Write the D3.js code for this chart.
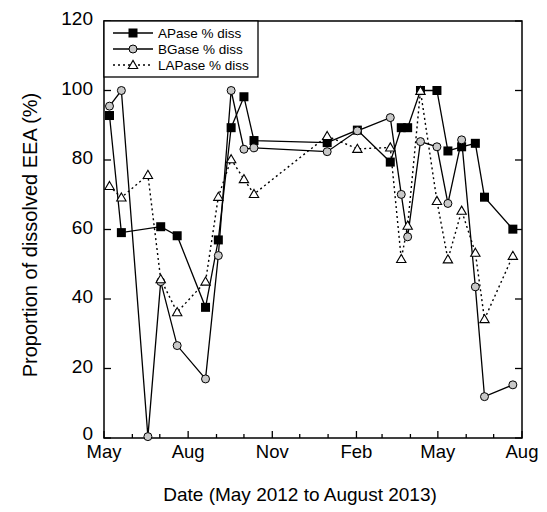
<!DOCTYPE html>
<html>
<head>
<meta charset="utf-8">
<script src="https://cdn.jsdelivr.net/npm/d3@7"></script>
<style>
  body { margin: 0; background: #fff; }
  svg { display: block; font-family: "Liberation Sans", Arial, Helvetica, sans-serif; }
</style>
</head>
<body>
<svg id="chart" width="547" height="512"></svg>
<script>
// Sampling dates and % dissolved for each enzyme
const dates = ["2012-05-07","2012-05-20","2012-06-18","2012-07-02","2012-07-20","2012-08-20",
  "2012-09-03","2012-09-17","2012-10-01","2012-10-12","2012-12-31","2013-02-02","2013-03-10",
  "2013-03-22","2013-03-29","2013-04-12","2013-04-30","2013-05-12","2013-05-27","2013-06-11",
  "2013-06-21","2013-07-22"];
const apase  = [92.8, 59.1, null, 60.8, 58.2, 37.6, 57.0, 89.3, 98.2, 85.6, 85.0, 88.6, 79.4,
  89.3, 89.3, 100, 100, 82.6, 83.8, 84.8, 69.3, 60.1];
const bgase  = [95.5, 100, 0.4, 45.0, 26.6, 17.0, 52.5, 100, 83.1, 83.5, 82.4, 88.4, 92.2,
  70.1, 57.9, 85.3, 83.8, 67.5, 85.8, 43.5, 11.9, 15.3];
const lapase = [72.5, 69.2, 75.7, 45.7, 36.2, 45.0, 69.4, 80.2, 74.5, 70.2, 86.9, 83.2, 83.6,
  51.5, 61.1, 99.9, 68.2, 51.4, 65.4, 53.3, 34.2, 52.4];
const yTicks = [0, 20, 40, 60, 80, 100, 120];
const seriesNames = ["APase % diss", "BGase % diss", "LAPase % diss"];

const parse = d3.timeParse("%Y-%m-%d");
const svg = d3.select("#chart");
const m = { left: 104, right: 522, top: 21, bottom: 438 };

const x = d3.scaleTime()
  .domain([new Date(2012, 4, 1), new Date(2013, 7, 1)])
  .range([m.left, m.right]);
const y = d3.scaleLinear().domain([0, 120]).range([m.bottom, m.top]);

const toPts = vals => dates.map((d, i) => ({ date: parse(d), v: vals[i] })).filter(p => p.v != null);
const series = [
  { name: seriesNames[0], pts: toPts(apase), shape: "square", dash: null },
  { name: seriesNames[1], pts: toPts(bgase), shape: "circle", dash: null },
  { name: seriesNames[2], pts: toPts(lapase), shape: "triangle", dash: "2,3" }
];

// frame
svg.append("rect")
  .attr("x", m.left).attr("y", m.top)
  .attr("width", m.right - m.left).attr("height", m.bottom - m.top)
  .attr("fill", "none").attr("stroke", "#000").attr("stroke-width", 1.5);

// x axis: monthly ticks inward, labels every 3 months
const months = d3.timeMonth.range(x.domain()[0], d3.timeMonth.offset(x.domain()[1], 1));
const fmt = d3.timeFormat("%b");
const xg = svg.append("g");
months.forEach((d, i) => {
  const major = i % 3 === 0;
  xg.append("line")
    .attr("x1", x(d)).attr("x2", x(d))
    .attr("y1", m.bottom).attr("y2", m.bottom - (major ? 7 : 4))
    .attr("stroke", "#000").attr("stroke-width", 1.3);
  if (major) {
    xg.append("text")
      .attr("x", x(d)).attr("y", m.bottom + 20)
      .attr("text-anchor", "middle").attr("font-size", 18.5)
      .text(fmt(d));
  }
});

// y axis: ticks inward on both sides
const yg = svg.append("g");
yTicks.forEach(t => {
  [[m.left, m.left + 7], [m.right, m.right - 7]].forEach(([a, b]) => {
    yg.append("line")
      .attr("x1", a).attr("x2", b)
      .attr("y1", y(t)).attr("y2", y(t))
      .attr("stroke", "#000").attr("stroke-width", 1.3);
  });
  yg.append("text")
    .attr("x", m.left - 11).attr("y", y(t) + (t === 0 ? 2 : 4))
    .attr("text-anchor", "end").attr("font-size", 19)
    .text(t);
});

// axis titles
svg.append("text")
  .attr("x", 300).attr("y", 501)
  .attr("text-anchor", "middle").attr("font-size", 19)
  .text("Date (May 2012 to August 2013)");
svg.append("text")
  .attr("transform", "translate(37,235) rotate(-90)")
  .attr("text-anchor", "middle").attr("font-size", 20)
  .text("Proportion of dissolved EEA (%)");

function drawMarker(g, shape, cx, cy) {
  if (shape === "square") {
    g.append("rect").attr("x", cx - 4.5).attr("y", cy - 4.5)
      .attr("width", 9).attr("height", 9).attr("fill", "#000");
  } else if (shape === "circle") {
    g.append("circle").attr("cx", cx).attr("cy", cy).attr("r", 4)
      .attr("fill", "#c8c8c8").attr("stroke", "#000").attr("stroke-width", 1);
  } else {
    g.append("path")
      .attr("d", d3.symbol(d3.symbolTriangle, 38)())
      .attr("transform", `translate(${cx},${cy + 0.8})`)
      .attr("fill", "#fff").attr("stroke", "#000").attr("stroke-width", 1.1);
  }
}

const line = d3.line().x(d => x(d.date)).y(d => y(d.v));

// lines first, markers above
series.forEach(s => {
  svg.append("path")
    .datum(s.pts)
    .attr("d", line)
    .attr("fill", "none").attr("stroke", "#000")
    .attr("stroke-width", s.dash ? 1.4 : 1.3)
    .attr("stroke-dasharray", s.dash);
});
series.forEach(s => {
  const g = svg.append("g");
  s.pts.forEach(p => drawMarker(g, s.shape, x(p.date), y(p.v)));
});

// legend
const lg = svg.append("g");
lg.append("rect")
  .attr("x", m.left).attr("y", m.top)
  .attr("width", 154).attr("height", 56)
  .attr("fill", "#fff").attr("stroke", "#000").attr("stroke-width", 1.3);
series.forEach((s, i) => {
  const cy = 33 + i * 16;
  lg.append("line")
    .attr("x1", 113).attr("x2", 153).attr("y1", cy).attr("y2", cy)
    .attr("stroke", "#000").attr("stroke-width", s.dash ? 1.4 : 1.3)
    .attr("stroke-dasharray", s.dash);
  drawMarker(lg, s.shape, 133, cy);
  lg.append("text")
    .attr("x", 158).attr("y", cy + 5)
    .attr("font-size", 13.5)
    .text(s.name);
});
</script>
</body>
</html>
